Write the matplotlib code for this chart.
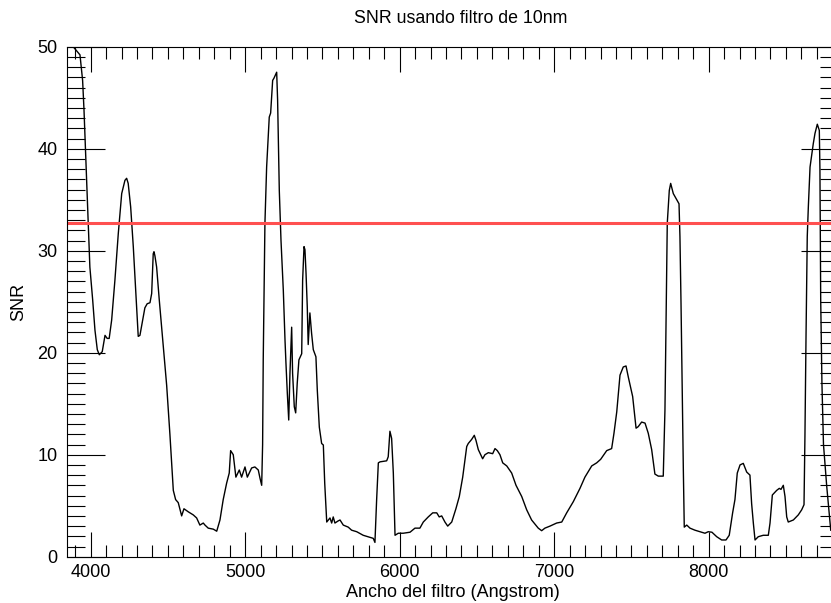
import matplotlib
matplotlib.use("Agg")
import matplotlib.pyplot as plt
from matplotlib.ticker import MultipleLocator

plt.rcParams['font.family'] = ['Liberation Sans', 'DejaVu Sans']

# Filter centre wavelength (Angstrom) and signal-to-noise ratio
wavelength = [
    3850, 3887, 3931, 3948, 3957, 3965, 3974, 3984, 3995, 4013, 4028, 4043,
    4056, 4075, 4093, 4107, 4120, 4136, 4157, 4179, 4201, 4222, 4233, 4243,
    4259, 4276, 4293, 4308, 4319, 4337, 4351, 4366, 4384, 4395, 4405, 4410,
    4416, 4427, 4444, 4470, 4492, 4513, 4535, 4550, 4567, 4589, 4604, 4632,
    4664, 4686, 4707, 4729, 4740, 4761, 4794, 4816, 4837, 4858, 4880, 4897,
    4906, 4923, 4940, 4962, 4977, 4999, 5014, 5042, 5063, 5085, 5096, 5107,
    5113, 5117, 5128, 5139, 5156, 5165, 5178, 5186, 5204, 5210, 5221, 5232,
    5247, 5258, 5264, 5273, 5282, 5290, 5301, 5307, 5318, 5327, 5337, 5348,
    5366, 5372, 5381, 5387, 5394, 5402, 5408, 5419, 5430, 5441, 5458, 5467,
    5480, 5495, 5506, 5515, 5528, 5549, 5560, 5570, 5581, 5601, 5614, 5635,
    5667, 5689, 5722, 5764, 5808, 5829, 5840, 5851, 5862, 5873, 5916, 5926,
    5937, 5948, 5959, 5970, 5991, 6023, 6067, 6099, 6131, 6153, 6185, 6214,
    6240, 6256, 6272, 6293, 6311, 6337, 6364, 6386, 6408, 6434, 6444, 6466,
    6483, 6494, 6509, 6537, 6552, 6574, 6602, 6617, 6632, 6649, 6667, 6693,
    6725, 6753, 6790, 6822, 6854, 6897, 6919, 6940, 6973, 7016, 7049, 7081,
    7124, 7167, 7199, 7243, 7275, 7301, 7340, 7372, 7387, 7405, 7426, 7447,
    7465, 7480, 7508, 7530, 7544, 7566, 7588, 7609, 7631, 7652, 7674, 7706,
    7717, 7724, 7732, 7739, 7745, 7754, 7771, 7793, 7808, 7814, 7821, 7827,
    7836, 7842, 7858, 7879, 7911, 7944, 7976, 7997, 8021, 8052, 8084, 8112,
    8133, 8155, 8170, 8185, 8203, 8224, 8246, 8267, 8278, 8289, 8300, 8321,
    8353, 8386, 8397, 8412, 8440, 8457, 8468, 8483, 8494, 8505, 8515, 8548,
    8580, 8602, 8617, 8623, 8630, 8638, 8645, 8656, 8677, 8688, 8703, 8716,
    8720, 8725, 8733, 8743, 8764, 8790,
]
snr = [
    56.0, 50.0, 49.2, 46.7, 43.8, 40.5, 36.6, 32.5, 28.4, 25.2, 22.2, 20.3,
    19.8, 20.1, 21.7, 21.4, 21.4, 23.2, 27.1, 31.7, 35.6, 36.9, 37.1, 36.6,
    34.3, 30.4, 25.8, 21.6, 21.7, 23.2, 24.4, 24.8, 24.9, 25.8, 29.7, 29.9,
    29.5, 28.4, 25.2, 20.6, 16.8, 12.0, 6.5, 5.6, 5.3, 4.0, 4.7, 4.4,
    4.1, 3.8, 3.1, 3.3, 3.1, 2.8, 2.7, 2.5, 3.6, 5.6, 7.2, 8.2,
    10.4, 10.0, 7.8, 8.5, 7.8, 8.8, 7.8, 8.7, 8.8, 8.5, 7.7, 7.0,
    11.0, 19.3, 32.7, 38.2, 43.1, 43.5, 46.7, 46.9, 47.5, 44.8, 35.9, 31.0,
    26.1, 21.2, 19.0, 16.0, 13.4, 18.0, 22.5, 18.0, 14.7, 14.1, 17.0, 19.3,
    19.9, 27.1, 30.4, 30.1, 27.8, 24.5, 20.8, 23.9, 21.9, 20.3, 19.6, 16.3,
    12.7, 11.1, 10.95, 7.2, 3.4, 3.8, 3.3, 3.9, 3.3, 3.5, 3.6, 3.1,
    2.9, 2.6, 2.45, 2.1, 1.9, 1.8, 1.4, 5.6, 9.2, 9.3, 9.4, 9.8,
    12.3, 11.6, 8.2, 2.1, 2.3, 2.3, 2.4, 2.8, 2.8, 3.4, 3.9, 4.3,
    4.3, 3.9, 4.0, 3.4, 3.0, 3.4, 4.7, 5.9, 7.8, 10.8, 11.1, 11.5,
    11.9, 11.4, 10.5, 9.6, 10.0, 10.2, 10.1, 10.6, 10.4, 10.0, 9.2, 8.9,
    8.2, 7.0, 5.9, 4.6, 3.6, 2.8, 2.55, 2.8, 3.0, 3.3, 3.4, 4.3,
    5.4, 6.7, 7.8, 8.9, 9.2, 9.55, 10.4, 10.6, 12.1, 14.2, 17.8, 18.6,
    18.7, 17.6, 15.7, 12.6, 12.75, 13.2, 13.1, 12.1, 10.5, 8.1, 7.9, 7.9,
    14.4, 23.2, 32.7, 34.5, 35.9, 36.6, 35.6, 35.0, 34.6, 31.4, 24.8, 18.3,
    8.5, 2.9, 3.1, 2.8, 2.6, 2.45, 2.3, 2.45, 2.4, 1.96, 1.64, 1.64,
    2.1, 4.3, 5.6, 8.2, 9.0, 9.15, 8.3, 8.0, 5.2, 3.3, 1.64, 1.96,
    2.1, 2.1, 3.3, 6.05, 6.5, 6.7, 6.6, 7.0, 5.9, 3.9, 3.4, 3.6,
    4.1, 4.6, 5.1, 11.8, 21.6, 31.4, 34.3, 38.2, 40.5, 41.5, 42.4, 41.8,
    38.0, 25.2, 17.0, 11.0, 6.9, 2.6,
]

# SNR threshold
snr_threshold = 32.7

x_range = (3847, 8837)
y_range = (0, 50)

fig = plt.figure(figsize=(8.31, 6.03), dpi=100)
ax = fig.add_axes([0.08063, 0.07678, 0.92780, 0.84577])

ax.plot(wavelength, snr, color='black', linewidth=1.0)
ax.axhline(snr_threshold, color='#ff5050', linewidth=2.2)

ax.set_xlim(*x_range)
ax.set_ylim(*y_range)

ax.xaxis.set_major_locator(MultipleLocator(1000))
ax.xaxis.set_minor_locator(MultipleLocator(100))
ax.yaxis.set_major_locator(MultipleLocator(10))
ax.yaxis.set_minor_locator(MultipleLocator(1))

ax.tick_params(which='both', direction='in', top=True, right=True,
               width=0.8, color='black', labelsize=13)
ax.xaxis.set_tick_params(which='major', length=18, pad=5.5)
ax.xaxis.set_tick_params(which='minor', length=8.6)
ax.yaxis.set_tick_params(which='major', length=27, pad=7)
ax.yaxis.set_tick_params(which='minor', length=13.2)

for sp in ax.spines.values():
    sp.set_linewidth(0.8)

ax.set_title('SNR usando filtro de 10nm', fontsize=12.8, x=0.511, pad=17)
ax.set_xlabel('Ancho del filtro (Angstrom)', fontsize=13)
ax.xaxis.set_label_coords(0.5, -0.0529)
ax.set_ylabel('SNR', fontsize=13)
ax.yaxis.set_label_coords(-0.0629, 0.5)
ax.yaxis.label.set_va('center')

fig.savefig('out.png', dpi=100)
